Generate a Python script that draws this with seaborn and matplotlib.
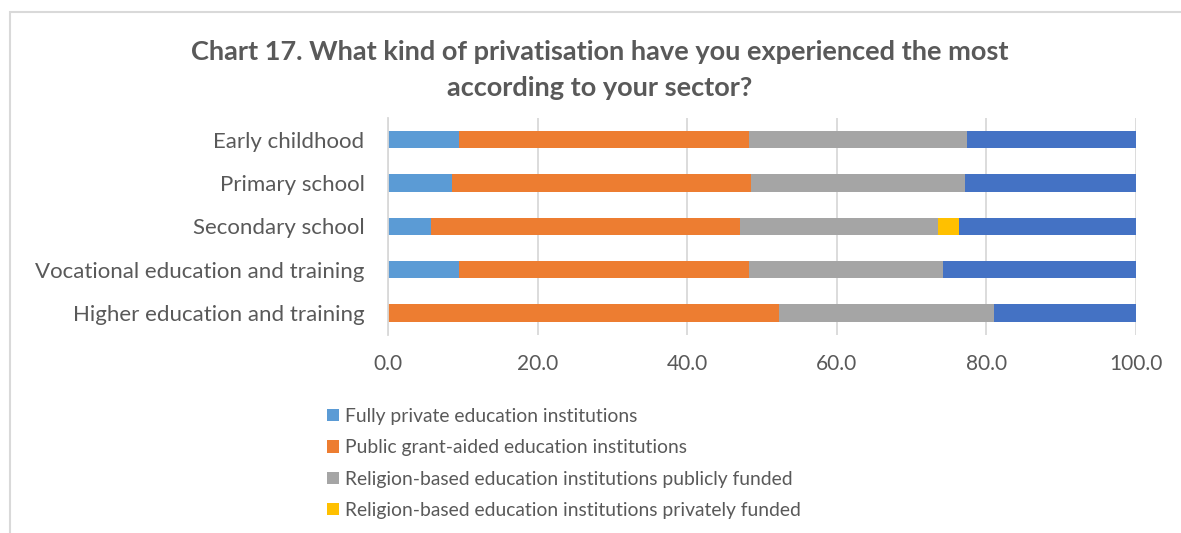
import numpy as np
import pandas as pd
import seaborn as sns
import matplotlib.pyplot as plt
from matplotlib.patches import Patch, Rectangle

# Survey shares (%) by sector
sectors = [
    "Early childhood",
    "Primary school",
    "Secondary school",
    "Vocational education and training",
    "Higher education and training",
]
fully_private = [9.5, 8.5, 5.8, 9.5, 0.0]
public_grant_aided = [38.8, 40.0, 41.2, 38.8, 52.3]
religion_public = [29.1, 28.6, 26.5, 25.9, 28.7]
religion_private = [0.0, 0.0, 2.9, 0.0, 0.0]
other = [22.6, 22.9, 23.6, 25.8, 19.0]

series_names = [
    "Fully private education institutions",
    "Public grant-aided education institutions",
    "Religion-based education institutions publicly funded",
    "Religion-based education institutions privately funded",
    "Other",
]
series_values = [fully_private, public_grant_aided, religion_public, religion_private, other]
colors = ["#5B9BD5", "#ED7D31", "#A5A5A5", "#FFC000", "#4472C4"]
x_ticks = [0, 20, 40, 60, 80, 100]

sns.set_theme(style="white")
plt.rcParams["font.family"] = ["Lato", "DejaVu Sans"]
text_color = "#595959"
grid_color = "#D9D9D9"

W, H = 1181, 533
fig = plt.figure(figsize=(W / 100, H / 100), dpi=100)
ax = fig.add_axes([388 / W, 1 - 334.5 / H, (1136 - 388) / W, (334.5 - 118) / H])

df = pd.DataFrame(dict(zip(series_names, series_values)), index=sectors)
cum = df.cumsum(axis=1)

# Stacked bars: draw cumulative totals from the outermost segment inwards
for name, color in reversed(list(zip(series_names, colors))):
    sns.barplot(
        x=cum[name].values, y=sectors, order=sectors, orient="h",
        color=color, saturation=1, width=0.4, errorbar=None, ax=ax,
        linewidth=0,
    )

ax.set_xlim(0, 100)
ax.set_xticks(x_ticks)
ax.set_xticklabels([f"{t:.1f}" for t in x_ticks])
ax.set_xlabel("")
ax.set_ylabel("")
ax.xaxis.grid(True, color=grid_color, linewidth=1.3)
ax.yaxis.grid(False)
ax.set_axisbelow(True)
for side in ["top", "right", "bottom"]:
    ax.spines[side].set_visible(False)
ax.spines["left"].set_color(grid_color)
ax.spines["left"].set_linewidth(1.3)
ax.tick_params(axis="y", length=0, pad=17, labelsize=16, labelcolor=text_color)
ax.tick_params(axis="x", length=0, pad=14, labelsize=15, labelcolor=text_color)

fig.text(
    0.508, 1 - 40 / H,
    "Chart 17. What kind of privatisation have you experienced the most\naccording to your sector?",
    ha="center", va="top", fontsize=19.5, fontweight="bold", color=text_color,
    linespacing=1.6,
)

handles = [Patch(facecolor=c, edgecolor="none") for c in colors[:4]]
fig.legend(
    handles, series_names[:4], loc="upper left",
    bbox_to_anchor=(327 / W, 1 - 408 / H), frameon=False,
    fontsize=13.9, labelcolor=text_color, handlelength=0.62, handleheight=0.62,
    handletextpad=0.3, labelspacing=0.74, borderaxespad=0, borderpad=0,
)

# Chart frame
fig.add_artist(Rectangle((10 / W, -0.05), 1.1, 1 - 12 / H + 0.05,
                         transform=fig.transFigure, fill=False,
                         edgecolor=grid_color, linewidth=1.5))

fig.savefig("out.png", dpi=100, facecolor="white")
